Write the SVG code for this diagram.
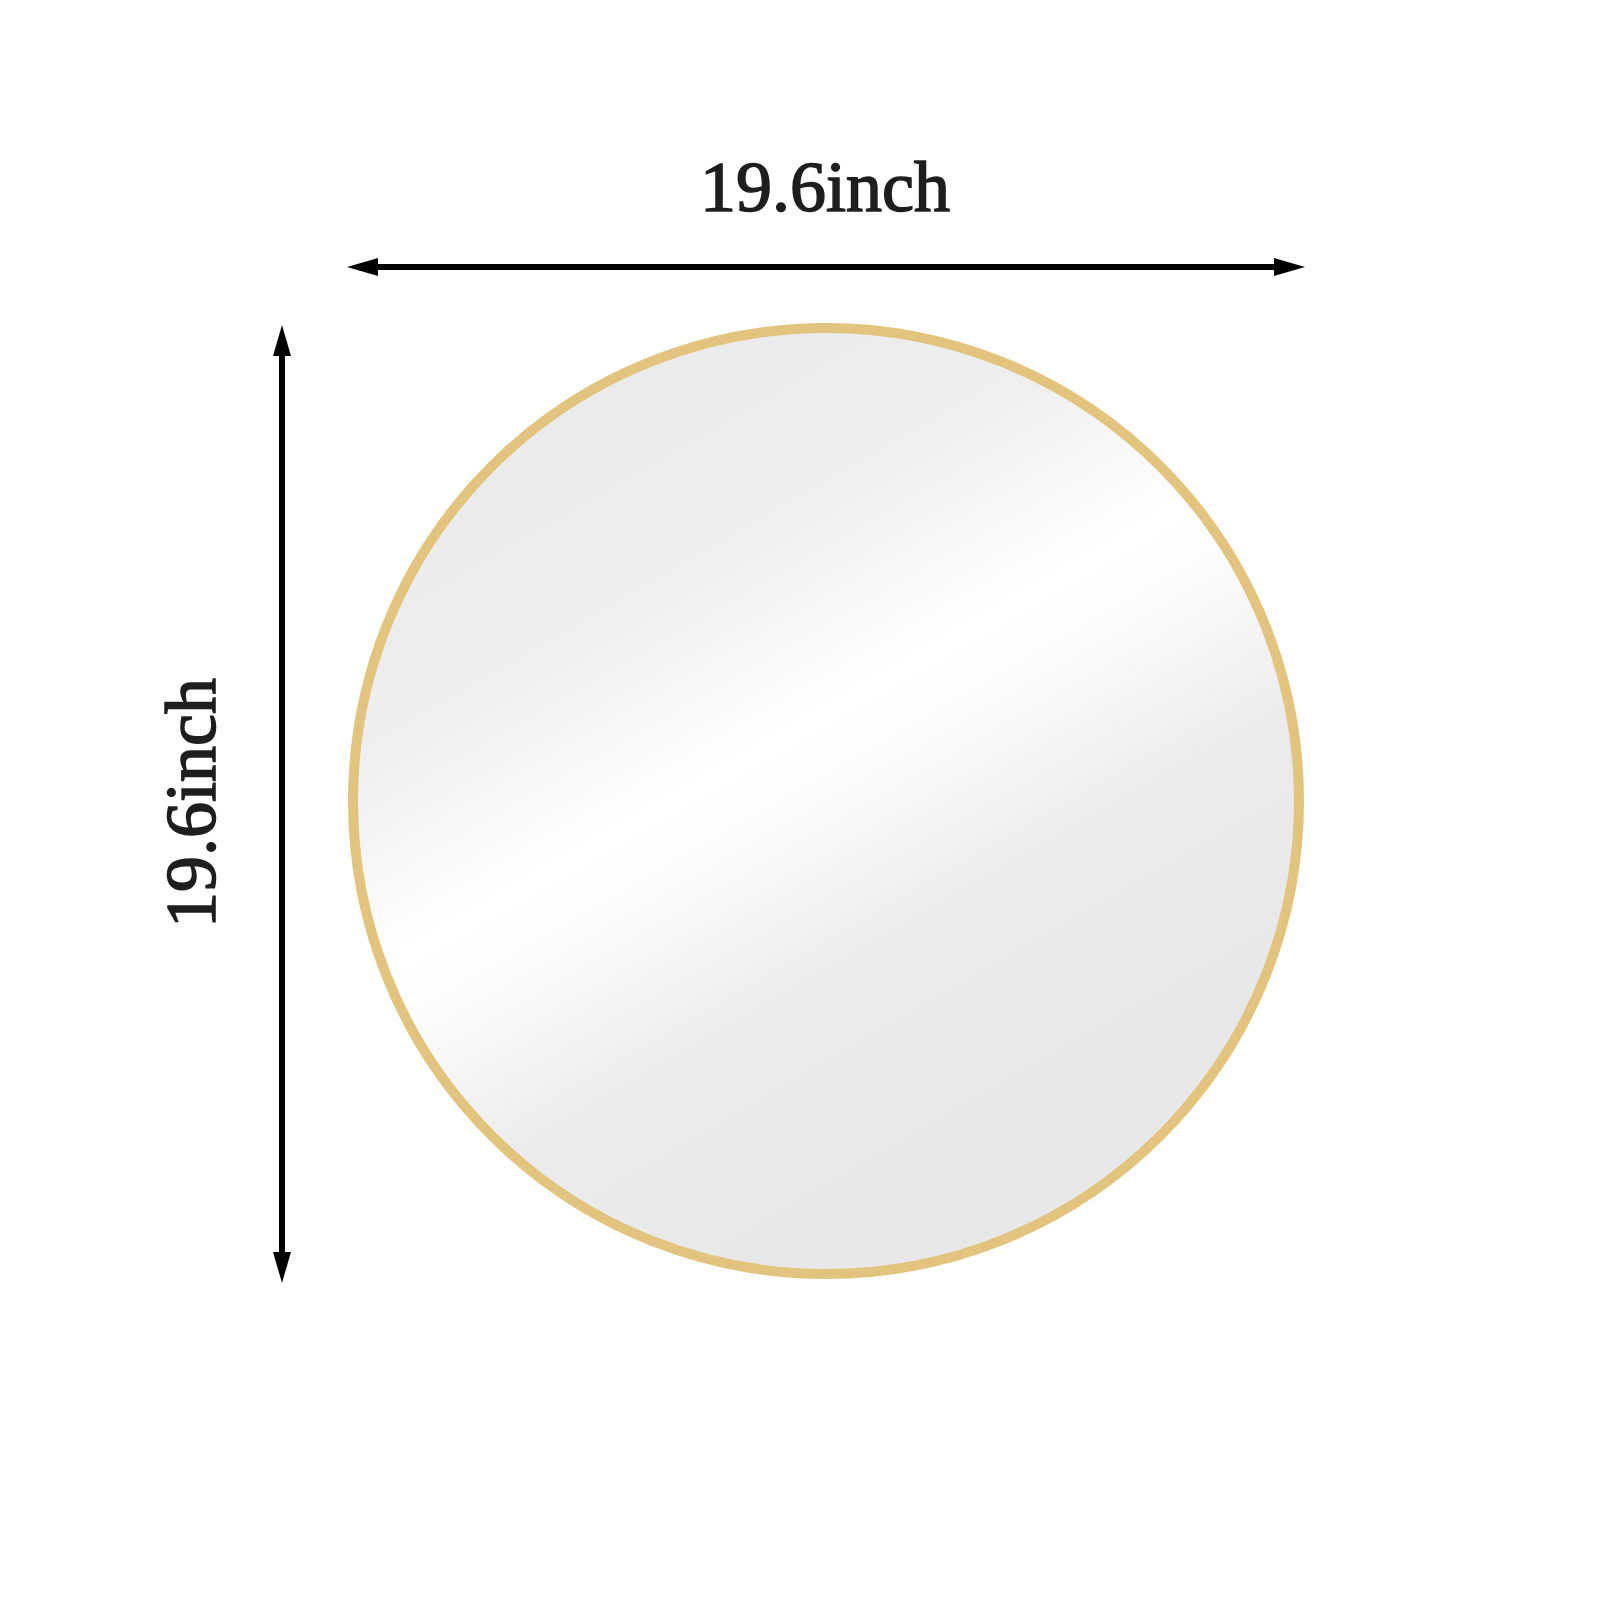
<svg xmlns="http://www.w3.org/2000/svg" width="1600" height="1600" viewBox="0 0 1600 1600">
<style>
.dim{stroke:#000;stroke-width:6;fill:none}
.head{fill:#000}
.lbl{font-family:"Liberation Serif","DejaVu Serif",serif;font-size:72px;font-weight:normal;fill:#1e1e1e;stroke:#1e1e1e;stroke-width:1.6;text-anchor:middle}
</style>
<defs>
<linearGradient id="glass" gradientUnits="userSpaceOnUse" x1="570" y1="340" x2="1020" y2="1120">
<stop offset="0" stop-color="#e9e9e9"/>
<stop offset="0.3" stop-color="#efefef"/>
<stop offset="0.5" stop-color="#ffffff"/>
<stop offset="0.58" stop-color="#fbfbfb"/>
<stop offset="0.76" stop-color="#ebebeb"/>
<stop offset="1" stop-color="#e8e8e8"/>
</linearGradient>
</defs>
<rect width="1600" height="1600" fill="#fff"/>
<g id="mirror">
<circle cx="826" cy="801" r="473" fill="url(#glass)" stroke="#e2c47f" stroke-width="10"/>
</g>
<g id="connectors">
<line class="dim" x1="372" y1="267" x2="1280" y2="267"/>
<path class="head" d="M347,267 L378,258 L378,276 Z"/>
<path class="head" d="M1305,267 L1274,258 L1274,276 Z"/>
<line class="dim" x1="282" y1="350" x2="282" y2="1258"/>
<path class="head" d="M282,325 L273,356 L291,356 Z"/>
<path class="head" d="M282,1283 L273,1252 L291,1252 Z"/>
</g>
<g id="label-width">
<text class="lbl" x="825" y="211">19.6inch</text>
</g>
<g id="label-height">
<text class="lbl" transform="translate(215,803) rotate(-90)" x="0" y="0">19.6inch</text>
</g>
</svg>
